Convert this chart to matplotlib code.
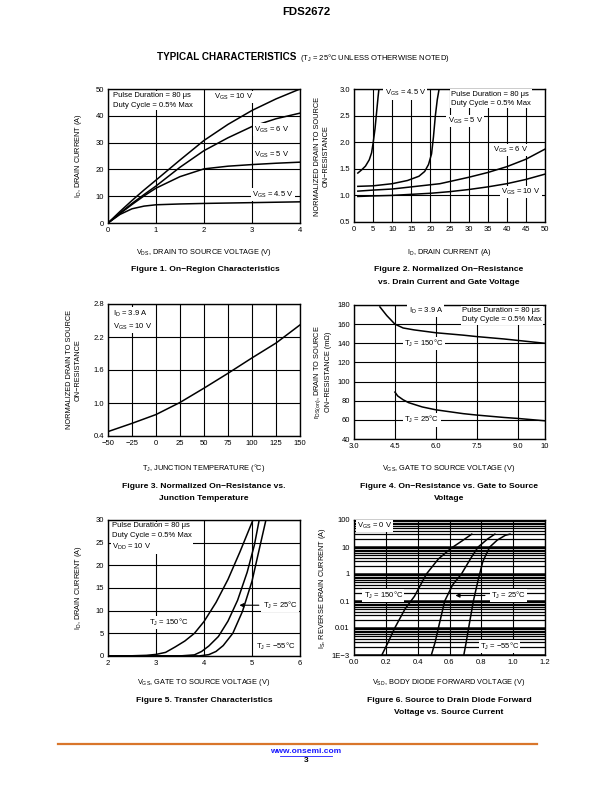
import matplotlib
matplotlib.use('Agg')
import matplotlib.pyplot as plt
from matplotlib.ticker import FixedLocator

plt.rcParams['font.family'] = ['Liberation Sans', 'DejaVu Sans']
plt.rcParams['mathtext.fontset'] = 'custom'
plt.rcParams['mathtext.rm'] = 'Liberation Sans'
plt.rcParams['mathtext.it'] = 'Liberation Sans'
plt.rcParams['mathtext.default'] = 'regular'

# Figure 1: on-region characteristics
vds = [0, 0.25, 0.5, 0.75, 1.0, 1.5, 2.0, 2.5, 3.0, 3.5, 4.0]
id_vgs10 = [0, 4.3, 8.4, 12.3, 16.0, 23.5, 30.8, 36.8, 42.0, 46.3, 50.0]
id_vgs6 = [0, 3.7, 7.3, 10.6, 13.8, 20.8, 27.0, 31.8, 36.0, 38.9, 41.0]
id_vgs5 = [0, 3.5, 6.9, 10.1, 13.0, 17.3, 20.2, 21.2, 21.8, 22.3, 22.7]
id_vgs45 = [0, 3.2, 5.3, 6.3, 6.8, 7.1, 7.3, 7.45, 7.6, 7.75, 7.9]

# Figure 2: normalized on-resistance vs drain current
id2_45 = [1.0, 2.0, 3.0, 4.0, 4.6, 5.0, 5.5, 5.9, 6.3, 6.6]
r2_45 = [1.42, 1.48, 1.55, 1.67, 1.8, 1.98, 2.25, 2.55, 2.85, 3.05]
id2_5 = [1.0, 5, 10, 14, 17, 18.5, 19.5, 20.3, 20.8, 21.3, 21.8, 22.4]
r2_5 = [1.17, 1.18, 1.22, 1.28, 1.36, 1.45, 1.58, 1.78, 2.1, 2.5, 2.8, 3.05]
id2_6 = [1.0, 5, 10, 15, 20, 22.5, 25, 30, 35, 40, 45, 50]
r2_6 = [1.08, 1.1, 1.12, 1.16, 1.2, 1.22, 1.26, 1.34, 1.43, 1.54, 1.68, 1.87]
id2_10 = [1.0, 5, 10, 15, 20, 25, 30, 35, 40, 45, 50]
r2_10 = [0.98, 0.99, 1.0, 1.02, 1.04, 1.07, 1.11, 1.16, 1.22, 1.3, 1.4]

# Figure 3: normalized on-resistance vs junction temperature
tj = [-50, -25, 0, 25, 50, 75, 100, 125, 150]
r3 = [0.48, 0.63, 0.79, 1.01, 1.27, 1.54, 1.82, 2.09, 2.42]

# Figure 4: on-resistance vs gate voltage
vgs4_150 = [3.95, 4.2, 4.5, 4.8, 5.2, 6.0, 7.0, 7.5, 8.5, 9.0, 10.0]
r4_150 = [178, 169, 160, 156, 154, 151, 148.5, 147, 144.5, 143, 140]
vgs4_25 = [4.5, 4.6, 4.8, 5.0, 5.5, 6.0, 7.0, 7.5, 8.5, 9.0, 10.0]
r4_25 = [89, 85, 81, 78, 73.5, 70.5, 66.5, 65, 62.5, 61.5, 59]

# Figure 5: transfer characteristics
vgs5_150 = [2.0, 2.5, 2.8, 3.0, 3.2, 3.4, 3.6, 3.8, 4.0, 4.25, 4.5, 4.75, 5.02]
id5_150 = [0, 0.05, 0.15, 0.35, 0.8, 2.0, 3.3, 5.0, 7.6, 11.8, 16.9, 23.0, 30.0]
vgs5_25 = [2.0, 3.5, 3.8, 3.95, 4.1, 4.3, 4.5, 4.7, 4.9, 5.05, 5.15]
id5_25 = [0, 0.02, 0.25, 1.0, 2.2, 4.3, 7.7, 12.3, 18.5, 24.5, 30.0]
vgs5_m55 = [2.0, 3.9, 4.1, 4.25, 4.4, 4.6, 4.8, 5.0, 5.15, 5.29]
id5_m55 = [0, 0.02, 0.3, 1.0, 2.3, 5.0, 9.8, 16.5, 23.5, 30.0]

# Figure 6: body diode forward voltage
vsd_150 = [0.175, 0.215, 0.256, 0.32, 0.38, 0.455, 0.53, 0.61, 0.68, 0.74]
is_150 = [0.001, 0.003, 0.01, 0.05, 0.15, 1.0, 3.6, 9.0, 17.0, 30.0]
vsd_25 = [0.486, 0.51, 0.53, 0.57, 0.62, 0.675, 0.74, 0.78, 0.84, 0.885]
is_25 = [0.001, 0.003, 0.01, 0.1, 0.4, 1.0, 4.4, 10.0, 20.0, 30.0]
vsd_m55 = [0.69, 0.705, 0.72, 0.75, 0.78, 0.81, 0.853, 0.9, 0.95, 0.98]
is_m55 = [0.001, 0.003, 0.01, 0.1, 0.6, 3.0, 10.0, 18.0, 27.0, 30.0]

W, H = 612, 792
fig = plt.figure(figsize=(W / 100, H / 100), dpi=100)

FS = 5.5
LBL = 5.3
CAP = 6.1
LW = 1.1
BOX = dict(facecolor='white', edgecolor='none', pad=0.8)


def make_axes(x0, y0, x1, y1):
  ax = fig.add_axes([x0 / W, 1 - y1 / H, (x1 - x0) / W, (y1 - y0) / H])
  for s in ax.spines.values():
    s.set_linewidth(1.0)
  ax.tick_params(length=0, labelsize=FS, pad=3)
  ax.grid(True, color='black', linewidth=0.8)
  ax.set_axisbelow(True)
  return ax


def ftext(x, y, s, **kw):
  fig.text(x / W, 1 - y / H, s, **kw)


# header
ftext(306, 12, 'FDS2672', ha='center', va='center', fontsize=8.2, fontweight='bold')
ftext(157, 57, 'TYPICAL CHARACTERISTICS', ha='left', va='center', fontsize=7.1, fontweight='bold')
ftext(300, 57.5, '(T$_J$ = 25°C UNLESS OTHERWISE NOTED)', ha='left', va='center', fontsize=5.5)

# ---- Figure 1
ax = make_axes(108, 89, 300, 223)
for y in (id_vgs10, id_vgs6, id_vgs5, id_vgs45):
  ax.plot(vds, y, color='black', lw=LW)
ax.set_xlim(0, 4)
ax.set_ylim(0, 50)
ax.set_xticks([0, 1, 2, 3, 4])
ax.set_yticks([0, 10, 20, 30, 40, 50])
ax.text(0.1, 48.8, 'Pulse Duration = 80 μs\nDuty Cycle = 0.5% Max', fontsize=FS, va='top', linespacing=1.5, bbox=BOX)
ax.text(2.2, 47, 'V$_{GS}$ = 10 V', fontsize=FS, va='center', bbox=BOX)
ax.text(3.05, 34.8, 'V$_{GS}$ = 6 V', fontsize=FS, va='center', bbox=BOX)
ax.text(3.05, 25.5, 'V$_{GS}$ = 5 V', fontsize=FS, va='center', bbox=BOX)
ax.text(3.0, 10.6, 'V$_{GS}$ = 4.5 V', fontsize=FS, va='center', bbox=BOX)
ftext(78, 156, 'I$_D$, DRAIN CURRENT (A)', rotation=90, ha='center', va='center', fontsize=LBL)
ftext(204, 253, 'V$_{DS}$, DRAIN TO SOURCE VOLTAGE (V)', ha='center', va='center', fontsize=LBL)
ftext(205, 270, 'Figure 1. On\u2212Region Characteristics', ha='center', va='center', fontsize=CAP, fontweight='bold')

# ---- Figure 2
ax = make_axes(354, 89, 545, 222)
for xs, ys in ((id2_45, r2_45), (id2_5, r2_5), (id2_6, r2_6), (id2_10, r2_10)):
  ax.plot(xs, ys, color='black', lw=LW)
ax.set_xlim(0, 50)
ax.set_ylim(0.5, 3.0)
ax.set_xticks(range(0, 51, 5))
ax.set_yticks([0.5, 1.0, 1.5, 2.0, 2.5, 3.0])
ax.set_yticklabels(['0.5', '1.0', '1.5', '2.0', '2.5', '3.0'])
ax.text(8.0, 2.92, 'V$_{GS}$ = 4.5 V', fontsize=FS, va='center', bbox=BOX)
ax.text(25.5, 2.97, 'Pulse Duration = 80 μs\nDuty Cycle = 0.5% Max', fontsize=FS, va='top', linespacing=1.5, bbox=BOX)
ax.text(24.5, 2.4, 'V$_{GS}$ = 5 V', fontsize=FS, va='center', bbox=BOX)
ax.text(36.5, 1.85, 'V$_{GS}$ = 6 V', fontsize=FS, va='center', bbox=BOX)
ax.text(38.5, 1.06, 'V$_{GS}$ = 10 V', fontsize=FS, va='center', bbox=BOX)
ftext(322, 156, 'NORMALIZED DRAIN TO SOURCE\nON\u2212RESISTANCE', rotation=90, ha='center', va='center', fontsize=LBL, linespacing=1.3)
ftext(449, 253, 'I$_D$, DRAIN CURRENT (A)', ha='center', va='center', fontsize=LBL)
ftext(449, 270, 'Figure 2. Normalized On\u2212Resistance', ha='center', va='center', fontsize=CAP, fontweight='bold')
ftext(449, 282, 'vs. Drain Current and Gate Voltage', ha='center', va='center', fontsize=CAP, fontweight='bold')

# ---- Figure 3
ax = make_axes(108, 304, 300, 436)
ax.plot(tj, r3, color='black', lw=LW)
ax.set_xlim(-50, 150)
ax.set_ylim(0.4, 2.8)
ax.set_xticks(range(-50, 151, 25))
ax.set_yticks([0.4, 1.0, 1.6, 2.2, 2.8])
ax.text(-45, 2.72, 'I$_D$ = 3.9 A\nV$_{GS}$ = 10 V', fontsize=FS, va='top', linespacing=1.4, bbox=BOX)
ftext(74, 370, 'NORMALIZED DRAIN TO SOURCE\nON\u2212RESISTANCE', rotation=90, ha='center', va='center', fontsize=LBL, linespacing=1.3)
ftext(204, 468, 'T$_J$, JUNCTION TEMPERATURE (°C)', ha='center', va='center', fontsize=LBL)
ftext(204, 486, 'Figure 3. Normalized On\u2212Resistance vs.', ha='center', va='center', fontsize=CAP, fontweight='bold')
ftext(204, 498, 'Junction Temperature', ha='center', va='center', fontsize=CAP, fontweight='bold')

# ---- Figure 4
ax = make_axes(354, 305, 545, 439)
ax.plot(vgs4_150, r4_150, color='black', lw=LW)
ax.plot(vgs4_25, r4_25, color='black', lw=LW)
ax.set_xlim(3.0, 10.0)
ax.set_ylim(40, 180)
ax.set_xticks([3.0, 4.5, 6.0, 7.5, 9.0, 10.0])
ax.set_xticklabels(['3.0', '4.5', '6.0', '7.5', '9.0', '10'])
ax.set_yticks(range(40, 181, 20))
ax.text(5.0, 174, 'I$_D$ = 3.9 A', fontsize=FS, va='center', bbox=BOX)
ax.text(6.95, 178, 'Pulse Duration = 80 μs\nDuty Cycle = 0.5% Max', fontsize=FS, va='top', linespacing=1.5, bbox=BOX)
ax.text(4.85, 140, 'T$_J$ = 150°C', fontsize=FS, va='center', bbox=BOX)
ax.text(4.85, 60, 'T$_J$ = 25°C', fontsize=FS, va='center', bbox=BOX)
ftext(322, 372, 'r$_{DS(on)}$, DRAIN TO SOURCE\nON\u2212RESISTANCE (mΩ)', rotation=90, ha='center', va='center', fontsize=LBL, linespacing=1.3)
ftext(449, 468, 'V$_{GS}$, GATE TO SOURCE VOLTAGE (V)', ha='center', va='center', fontsize=LBL)
ftext(449, 486, 'Figure 4. On\u2212Resistance vs. Gate to Source', ha='center', va='center', fontsize=CAP, fontweight='bold')
ftext(449, 498, 'Voltage', ha='center', va='center', fontsize=CAP, fontweight='bold')

# ---- Figure 5
ax = make_axes(108, 520, 300, 656)
for xs, ys in ((vgs5_150, id5_150), (vgs5_25, id5_25), (vgs5_m55, id5_m55)):
  ax.plot(xs, ys, color='black', lw=LW)
ax.set_xlim(2, 6)
ax.set_ylim(0, 30)
ax.set_xticks([2, 3, 4, 5, 6])
ax.set_yticks(range(0, 31, 5))
ax.text(2.08, 29.5, 'Pulse Duration = 80 μs\nDuty Cycle = 0.5% Max\nV$_{DD}$ = 10 V', fontsize=FS, va='top', linespacing=1.5, bbox=BOX)
ax.text(2.85, 7.4, 'T$_J$ = 150°C', fontsize=FS, va='center', bbox=BOX)
ax.text(5.22, 11.2, 'T$_J$ = 25°C', fontsize=FS, va='center', bbox=BOX)
ax.annotate('', xy=(4.68, 11.2), xytext=(5.2, 11.2),
            arrowprops=dict(arrowstyle='-|>', color='black', lw=0.8, mutation_scale=6))
ax.text(5.08, 2.2, 'T$_J$ = \u221255°C', fontsize=FS, va='center', bbox=BOX)
ftext(78, 588, 'I$_D$, DRAIN CURRENT (A)', rotation=90, ha='center', va='center', fontsize=LBL)
ftext(204, 683, 'V$_{GS}$, GATE TO SOURCE VOLTAGE (V)', ha='center', va='center', fontsize=LBL)
ftext(204, 700, 'Figure 5. Transfer Characteristics', ha='center', va='center', fontsize=CAP, fontweight='bold')

# ---- Figure 6
ax = make_axes(354, 520, 545, 655)
ax.set_yscale('log')
ax.grid(False)
ax.set_xlim(0, 1.2)
ax.set_ylim(1e-3, 100)
ax.set_xticks([0.0, 0.2, 0.4, 0.6, 0.8, 1.0, 1.2])
ax.set_xticklabels(['0.0', '0.2', '0.4', '0.6', '0.8', '1.0', '1.2'])
ax.yaxis.set_major_locator(FixedLocator([1e-3, 1e-2, 1e-1, 1, 10, 100]))
ax.set_yticklabels(['1E\u22123', '0.01', '0.1', '1', '10', '100'])
ax.yaxis.set_minor_locator(FixedLocator([m * 10.0 ** e for e in range(-3, 2) for m in range(2, 10)]))
ax.yaxis.set_minor_formatter(plt.NullFormatter())
ax.tick_params(which='both', length=0)
ax.grid(True, which='major', axis='y', color='black', linewidth=1.8)
ax.grid(True, which='minor', axis='y', color='black', linewidth=0.9)
ax.grid(True, which='major', axis='x', color='black', linewidth=0.8)
for xs, ys in ((vsd_150, is_150), (vsd_25, is_25), (vsd_m55, is_m55)):
  ax.plot(xs, ys, color='black', lw=LW)
ax.text(0.02, 60, 'V$_{GS}$ = 0 V', fontsize=FS, va='center', bbox=BOX)
ax.text(0.06, 0.16, 'T$_J$ = 150°C', fontsize=FS, va='center', bbox=BOX)
ax.text(0.86, 0.16, 'T$_J$ = 25°C', fontsize=FS, va='center', bbox=BOX)
ax.annotate('', xy=(0.62, 0.16), xytext=(0.84, 0.16),
            arrowprops=dict(arrowstyle='-|>', color='black', lw=0.8, mutation_scale=6))
ax.text(0.79, 0.0021, 'T$_J$ = \u221255°C', fontsize=FS, va='center', bbox=BOX)
ftext(322, 588, 'I$_S$, REVERSE DRAIN CURRENT (A)', rotation=90, ha='center', va='center', fontsize=LBL)
ftext(449, 683, 'V$_{SD}$, BODY DIODE FORWARD VOLTAGE (V)', ha='center', va='center', fontsize=LBL)
ftext(449, 700, 'Figure 6. Source to Drain Diode Forward', ha='center', va='center', fontsize=CAP, fontweight='bold')
ftext(449, 712, 'Voltage vs. Source Current', ha='center', va='center', fontsize=CAP, fontweight='bold')

# footer
fig.add_artist(plt.Line2D([58 / W, 537 / W], [1 - 744 / H, 1 - 744 / H], color='#d9762b', lw=1.6))
ftext(306, 751.5, 'www.onsemi.com', ha='center', va='center', fontsize=6.0, fontweight='bold', color='#1a1aff')
fig.add_artist(plt.Line2D([280 / W, 332 / W], [1 - 756 / H, 1 - 756 / H], color='#1a1aff', lw=0.6))
ftext(306, 760.5, '3', ha='center', va='center', fontsize=6.0, fontweight='bold')

fig.savefig('out.png', dpi=100)
